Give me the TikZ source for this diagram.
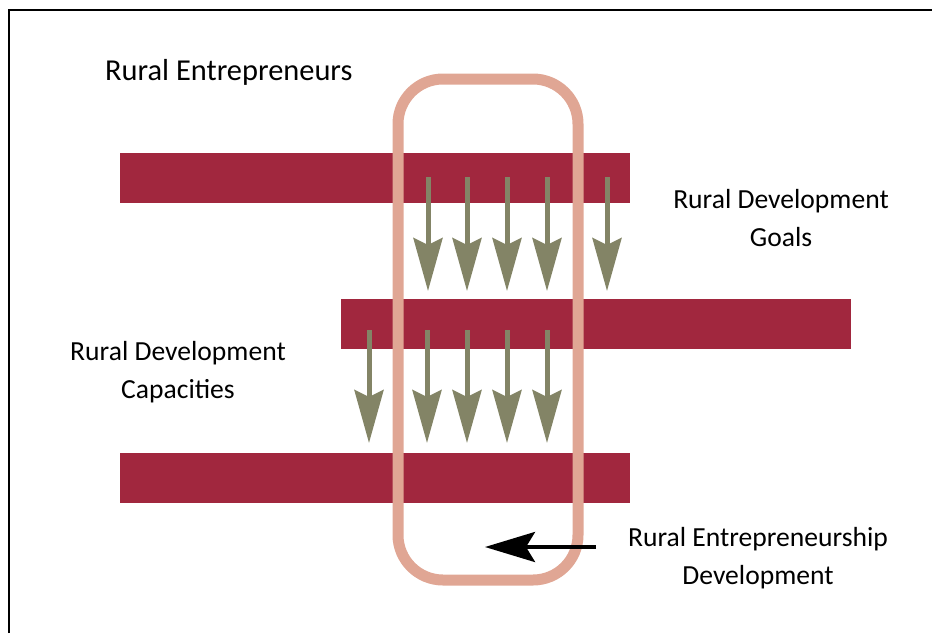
\documentclass[tikz,border=0pt]{standalone}
\usepackage{fontspec}
\setmainfont{Carlito}
\usetikzlibrary{arrows.meta}
\definecolor{barred}{RGB}{161,39,62}
\definecolor{ringpink}{RGB}{224,166,148}
\definecolor{olive}{RGB}{131,132,102}

\begin{document}
\begin{tikzpicture}[x=1pt,y=-1pt]
	%
	% `bar' is used for the three horizontal bands.
	% `ring' is the rounded frame, `down' the grey arrows.
	\tikzstyle{bar} = [fill=barred,minimum width=510pt,minimum height=50pt,inner sep=0pt]
	\tikzstyle{ring} = [draw=ringpink,line width=11pt,rounded corners=45pt]
	\tikzstyle{down} = [olive,line width=5pt,-{Stealth[length=53pt,width=29pt,inset=7pt]}]
	\tikzstyle{label} = [font=\fontsize{27.6}{38.5}\selectfont,align=center,inner sep=0pt]
	%
	\useasboundingbox (0,0) rectangle (932,633);
	\draw[line width=1.8pt] (9,633) -- (9,10) -- (932,10);
	%
	% Bars
	\node[bar] (bar1) at (375,178) {};
	\node[bar] (bar2) at (596,324) {};
	\node[bar] (bar3) at (375,478) {};
	%
	% Arrows, row 1
	\foreach \x [count=\i] in {428,467,507,547,607} {
		\coordinate (top\i) at (\x,177);
		\coordinate (tip\i) at (\x,291);
		\draw[down] (top\i) -- (tip\i);
	}
	%
	% Arrows, row 2
	\foreach \x [count=\i] in {369,427,467,507,547} {
		\coordinate (mid\i) at (\x,330);
		\coordinate (low\i) at (\x,443);
		\draw[down] (mid\i) -- (low\i);
	}
	%
	% Ring
	\draw[ring] (398,79) rectangle (578,580);
	%
	% Labels
	\node[label,font=\fontsize{30.4}{38}\selectfont,anchor=west] (entre) at (105,72) {Rural Entrepreneurs};
	\node[label] (goals) at (781,218) {Rural Development\\Goals};
	\node[label] (capac) at (178,372) {Rural Development\\Capacities};
	\node[label] (devel) at (758,558) {Rural Entrepreneurship\\Development};
	%
	% Black arrow
	\coordinate (tail) at (596,547);
	\coordinate (head) at (485,547);
	\draw[line width=4pt,-{Stealth[length=50pt,width=30pt,inset=9pt]}] (tail) -- (head);
	%
\end{tikzpicture}
\end{document}
